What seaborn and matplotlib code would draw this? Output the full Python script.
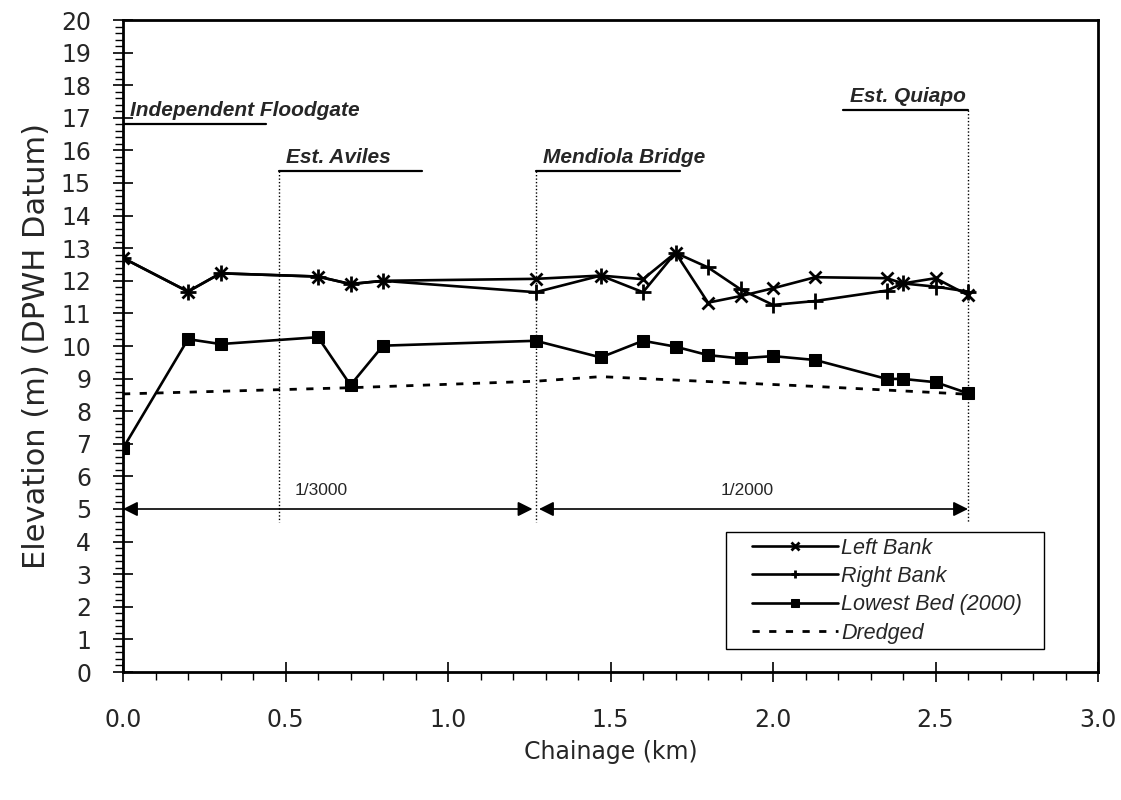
import matplotlib
matplotlib.use("Agg")
import matplotlib.pyplot as plt
from matplotlib.patches import Rectangle
from matplotlib.ticker import MultipleLocator, FormatStrFormatter
import seaborn as sns

# chainage (km) of surveyed sections
chainage = [0.0, 0.2, 0.3, 0.6, 0.7, 0.8, 1.27, 1.47, 1.6, 1.7,
            1.8, 1.9, 2.0, 2.13, 2.35, 2.4, 2.5, 2.6]
left_bank = [12.70, 11.67, 12.23, 12.13, 11.90, 12.00, 12.06, 12.16, 12.05, 12.86,
             11.33, 11.53, 11.77, 12.11, 12.08, 11.92, 12.08, 11.56]
right_bank = [12.70, 11.67, 12.23, 12.13, 11.90, 12.00, 11.65, 12.16, 11.65, 12.86,
              12.41, 11.74, 11.26, 11.38, 11.70, 11.92, 11.82, 11.67]
lowest_bed = [6.86, 10.21, 10.06, 10.27, 8.80, 10.01, 10.16, 9.65, 10.16, 9.98,
              9.72, 9.62, 9.69, 9.57, 8.99, 8.99, 8.89, 8.55]

dredged_x = [0.0, 0.7, 1.27, 1.47, 2.13, 2.6]
dredged = [8.53, 8.72, 8.92, 9.06, 8.76, 8.52]

# landmarks: name, chainage, label level, underline end
landmarks = [
    ("Independent Floodgate", 0.0, 16.81, 0.44),
    ("Est. Aviles", 0.481, 15.38, 0.92),
    ("Mendiola Bridge", 1.27, 15.38, 1.713),
    ("Est. Quiapo", 2.6, 17.25, 2.215),
]
slopes = [("1/3000", 0.0, 1.26), ("1/2000", 1.28, 2.6)]
slope_level = 5.0

sns.set_style("ticks")
plt.rcParams["font.family"] = ["DejaVu Sans"]
arial = ["Liberation Sans", "DejaVu Sans"]

fig, ax = plt.subplots(figsize=(11.21, 8), dpi=100)
fig.subplots_adjust(left=123 / 1121, right=1098 / 1121, top=1 - 20 / 800, bottom=1 - 672 / 800)

lw = 1.9
sns.lineplot(x=chainage, y=left_bank, ax=ax, color="black", lw=lw, marker="x",
             markersize=8, markeredgewidth=2, markeredgecolor="black", label="Left Bank")
sns.lineplot(x=chainage, y=right_bank, ax=ax, color="black", lw=lw, marker="+",
             markersize=11, markeredgewidth=2, markeredgecolor="black", label="Right Bank")
sns.lineplot(x=chainage, y=lowest_bed, ax=ax, color="black", lw=lw, marker="s",
             markersize=9, markeredgecolor="black", label="Lowest Bed (2000)")
sns.lineplot(x=dredged_x, y=dredged, ax=ax, color="black", lw=2.0,
             linestyle=(0, (2.6, 3.4)), label="Dredged")

# landmark labels with underline and dotted drop line
for name, xc, lev, xend in landmarks:
    ax.plot([xc, xc], [lev, 4.6], color="black", lw=1.0, linestyle=(0, (1, 1.5)))
    ax.plot([min(xc, xend), max(xc, xend)], [lev, lev], color="black", lw=1.6)
    tx = min(xc, xend) + 0.022
    ax.text(tx, lev + 0.12, name, fontsize=15, fontweight="bold", fontstyle="italic",
            family=arial, ha="left", va="bottom")

# slope arrows
for txt, x0, x1 in slopes:
    ax.annotate("", xy=(x0, slope_level), xytext=(x1, slope_level),
                arrowprops=dict(arrowstyle="<|-|>", color="black", lw=1.2,
                                mutation_scale=22, shrinkA=0, shrinkB=0))
    ax.text((x0 + x1) / 2 - 0.02, slope_level + 0.35, txt, fontsize=12.5,
            family=arial, ha="center", va="bottom")

ax.set_xlim(0, 3.0)
ax.set_ylim(0, 20)
ax.xaxis.set_major_locator(MultipleLocator(0.5))
ax.xaxis.set_minor_locator(MultipleLocator(0.1))
ax.xaxis.set_major_formatter(FormatStrFormatter("%.1f"))
ax.yaxis.set_major_locator(MultipleLocator(1))
ax.yaxis.set_minor_locator(MultipleLocator(0.2))

ax.tick_params(axis="both", which="major", direction="inout", length=14, width=1.2,
               labelsize=17, color="black")
ax.tick_params(axis="both", which="minor", direction="out", length=6, width=1.0,
               color="black")
ax.tick_params(axis="x", which="major", pad=19)
ax.tick_params(axis="y", which="major", pad=16)

for side in ["left", "bottom", "top", "right"]:
    ax.spines[side].set_visible(True)
    ax.spines[side].set_color("black")
    ax.spines[side].set_linewidth(2.0)

ax.set_xlabel("Chainage (km)", fontsize=17, labelpad=6)
ax.set_ylabel("Elevation (m) (DPWH Datum)", fontsize=22, labelpad=7)

# legend box drawn separately so its padding matches the original
ax.add_patch(Rectangle((0.618, 0.035), 0.327, 0.18, transform=ax.transAxes,
                       facecolor="white", edgecolor="black", lw=1.0, zorder=4))
leg = ax.legend(loc="upper left", bbox_to_anchor=(0.645, 0.206), borderaxespad=0,
                frameon=False, handlelength=4.0, borderpad=0, labelspacing=0.34,
                handletextpad=0.15,
                prop={"family": arial, "style": "italic", "size": 15.5})
leg.set_zorder(5)
for h in leg.legend_handles:
    h.set_markersize(6)

fig.savefig("out.png", dpi=100)
